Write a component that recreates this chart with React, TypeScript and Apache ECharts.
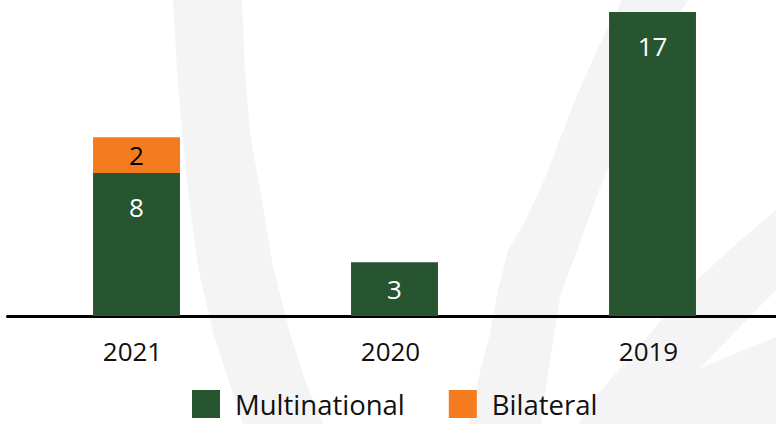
import React, { useEffect, useRef } from "react";
import * as echarts from "echarts";

const categories = ["2021", "2020", "2019"];
const multinational = [8, 3, 17];
const bilateral: (number | null)[] = [2, null, null];
const seriesNames = ["Multinational", "Bilateral"];

const GREEN = "#27552f";
const ORANGE = "#f47b20";
const WM = "#f4f4f4";
const FONT = "'Open Sans', 'Noto Sans', sans-serif";

export default function App() {
  const ref = useRef<HTMLDivElement>(null);
  useEffect(() => {
    if (!ref.current) return;
    const chart = echarts.init(ref.current, null, { renderer: "svg" });
    const wmStyle = { fill: WM };
    chart.setOption({
      animation: false,
      backgroundColor: "#ffffff",
      textStyle: { fontFamily: FONT },
      graphic: [
        {
          type: "polygon",
          z: 0,
          silent: true,
          shape: {
            points: [
              [173, 0], [177, 70], [182, 133], [189, 200], [198, 267], [213, 333], [235, 400], [245, 430],
              [326, 430], [305, 380], [290, 333], [273, 267], [262, 200], [250, 133], [245, 70], [242, 0],
            ],
          },
          style: wmStyle,
        },
        {
          type: "polygon",
          z: 0,
          silent: true,
          shape: {
            points: [
              [622, 0], [597, 50], [575, 100], [556, 150], [540, 190], [523, 225], [508, 250], [498, 290],
              [490, 333], [478, 380], [467, 430], [540, 430], [547, 380], [555, 330], [560, 297], [577, 250],
              [603, 180], [622, 135], [640, 90], [662, 45], [688, 0],
            ],
          },
          style: wmStyle,
        },
        {
          type: "polygon",
          z: 0,
          silent: true,
          shape: {
            points: [
              [776, 210], [735, 245], [697, 280], [665, 316], [630, 357], [593, 400], [575, 430], [776, 430],
              [776, 337], [700, 368], [776, 290],
            ],
          },
          style: wmStyle,
        },
      ],
      legend: {
        data: seriesNames,
        left: 192,
        top: 390,
        padding: 0,
        itemWidth: 28,
        itemHeight: 28,
        itemGap: 44,
        icon: "rect",
        textStyle: {
          fontFamily: FONT,
          fontSize: 27.5,
          lineHeight: 28,
          color: "#111111",
          padding: [0, 0, 0, 10],
        },
      },
      grid: { left: 7.5, top: 12, width: 774, height: 304, outerBoundsMode: "none" },
      xAxis: {
        type: "category",
        data: categories,
        axisLine: { show: true, lineStyle: { color: "#000000", width: 3 } },
        axisTick: { show: false },
        axisLabel: {
          fontFamily: FONT,
          fontSize: 26,
          color: "#111111",
          margin: 22,
          padding: [0, 8, 0, 0],
        },
      },
      yAxis: {
        type: "value",
        min: 0,
        max: 17,
        show: false,
        splitLine: { show: false },
      },
      series: [
        {
          name: seriesNames[0],
          type: "bar",
          stack: "total",
          barWidth: "33.7%",
          itemStyle: { color: GREEN },
          z: 2,
          data: multinational.map((v) => ({
            value: v,
            label: { position: v >= 5 ? "insideTop" : "inside" },
          })),
          label: {
            show: true,
            color: "#ffffff",
            fontFamily: FONT,
            fontSize: 26,
            distance: 21,
          },
        },
        {
          name: seriesNames[1],
          type: "bar",
          stack: "total",
          barWidth: "33.7%",
          itemStyle: { color: ORANGE },
          z: 2,
          data: bilateral,
          label: {
            show: true,
            position: "inside",
            color: "#000000",
            fontFamily: FONT,
            fontSize: 26,
          },
        },
      ],
    });
    return () => chart.dispose();
  }, []);
  return <div ref={ref} style={{ width: 776, height: 424, position: "absolute", left: 0, top: 0 }} />;
}
